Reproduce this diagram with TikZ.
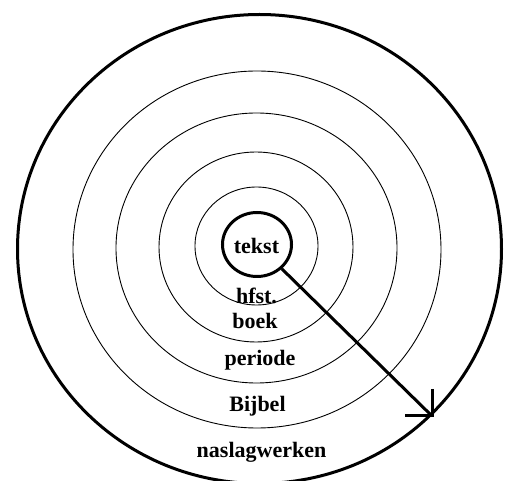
\documentclass[tikz,border=0pt]{standalone}
\usepackage{fontspec}
\setmainfont{Liberation Serif}
\usetikzlibrary{shapes.geometric}
\begin{document}
\begin{tikzpicture}[x=1pt,y=-1pt,
  ring/.style={draw=black,line width=0.9pt},
  thick ring/.style={draw=black,line width=3pt},
  lbl/.style={font=\fontsize{22}{24}\selectfont\bfseries,anchor=base,inner sep=0pt},
  arrowline/.style={draw=black,line width=3pt}]
\useasboundingbox (0,0) rectangle (507,481);
\fill[white] (0,0) rectangle (507,481);
% rings
\draw[thick ring] (259.5,249) ellipse [x radius=242, y radius=234.5];
\draw[ring] (257,249.5) ellipse [x radius=184, y radius=178.5];
\draw[ring] (256.5,248) ellipse [x radius=140.5, y radius=135];
\draw[ring] (256,247) ellipse [x radius=97, y radius=95];
\draw[ring] (256.5,246) ellipse [x radius=61.5, y radius=59];
% centre
\node[ellipse,thick ring,minimum width=69pt,minimum height=64pt,inner sep=0pt] (tekst) at (257,244.5) {};
\node[lbl] (ltekst) at (256.5,254) {tekst};
\node[lbl] (hfst) at (256.5,304) {hfst.};
\node[lbl] (boek) at (255,329) {boek};
\node[lbl] (periode) at (260,366) {periode};
\node[lbl] (bijbel) at (257.5,412) {Bijbel};
\node[lbl] (nasl) at (261.5,457.5) {naslagwerken};
% arrow
\coordinate (tip) at (432,416);
\draw[arrowline] (tekst) -- (tip);
\draw[arrowline] (tip) ++(0,-27) -- (tip) -- ++(-27,0);
\end{tikzpicture}
\end{document}
